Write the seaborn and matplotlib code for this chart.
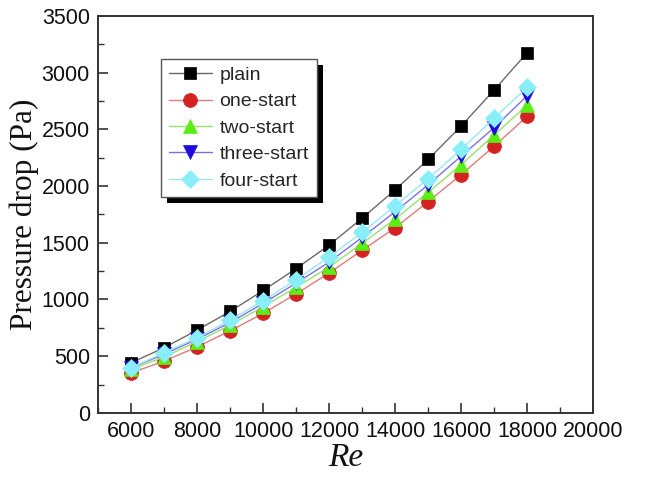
import matplotlib
matplotlib.use('Agg')
import matplotlib.pyplot as plt
from matplotlib.patches import Rectangle
from matplotlib.ticker import MultipleLocator
import seaborn as sns
import pandas as pd

# ─── Data ────────────────────────────────────────────────────────────────────
re_values = [6000, 7000, 8000, 9000, 10000, 11000, 12000, 13000, 14000, 15000, 16000, 17000, 18000]
plain = [442, 575, 730, 895, 1079, 1272, 1479, 1716, 1967, 2234, 2529, 2846, 3175]
one_start = [353, 457, 582, 724, 877, 1050, 1233, 1434, 1632, 1863, 2100, 2352, 2613]
two_start = [384, 493, 629, 774, 937, 1108, 1286, 1494, 1710, 1943, 2189, 2449, 2713]
three_start = [398, 517, 650, 797, 966, 1144, 1330, 1547, 1774, 2011, 2263, 2515, 2796]
four_start = [398, 531, 664, 819, 990, 1174, 1375, 1591, 1825, 2065, 2322, 2598, 2870]

series_names = ['plain', 'one-start', 'two-start', 'three-start', 'four-start']
series_values = [plain, one_start, two_start, three_start, four_start]

# line colour, marker colour, marker, marker size
styles = {
    'plain':       ('#6a6a6a', '#000000', 's', 9),
    'one-start':   ('#e27a7a', '#d42222', 'o', 10),
    'two-start':   ('#98e070', '#5cee14', '^', 10),
    'three-start': ('#7a72e6', '#1c0ce0', 'v', 10),
    'four-start':  ('#9ae6f2', '#8aeefa', 'D', 9),
}

df = pd.DataFrame({
    'Re': re_values * len(series_names),
    'dp': sum(series_values, []),
    'case': [n for n in series_names for _ in re_values],
})

sns.set_style('ticks')
plt.rcParams['font.family'] = ['Liberation Sans', 'DejaVu Sans']

fig, ax = plt.subplots(figsize=(6.68, 4.79), dpi=100)
fig.subplots_adjust(left=0.147, right=0.888, bottom=0.138, top=0.967)

for name in series_names:
    lc, mc, mk, ms = styles[name]
    sub = df[df['case'] == name]
    sns.lineplot(data=sub, x='Re', y='dp', ax=ax, color=lc, linewidth=1.0,
                 marker=mk, markersize=ms, markerfacecolor=mc,
                 markeredgecolor=mc, markeredgewidth=0.5, label=name)

ax.set_xlim(5000, 20000)
ax.set_ylim(0, 3500)
ax.xaxis.set_major_locator(MultipleLocator(2000))
ax.xaxis.set_minor_locator(MultipleLocator(1000))
ax.yaxis.set_major_locator(MultipleLocator(500))
ax.yaxis.set_minor_locator(MultipleLocator(250))

for sp in ax.spines.values():
    sp.set_visible(True)
    sp.set_color('#333333')
    sp.set_linewidth(1.4)

ax.tick_params(which='both', direction='in', top=False, right=False,
               colors='#333333', labelcolor='#111111', labelsize=15.5)
ax.tick_params(which='major', length=7, width=1.2, pad=6)
ax.tick_params(which='minor', length=4, width=1.0)

ax.set_xlabel('Re', family='Liberation Serif', style='italic', fontsize=24,
              labelpad=0, color='#111111')
ax.set_ylabel('Pressure drop (Pa)', family='Liberation Serif', fontsize=22.5,
              labelpad=2, color='#111111')

leg = ax.legend(loc='upper left', bbox_to_anchor=(0.127, 0.892), borderaxespad=0,
                fancybox=False, framealpha=1, edgecolor='#555555', fontsize=14,
                handlelength=2.2, handletextpad=0.4, labelspacing=0.45,
                borderpad=0.4)
leg.get_frame().set_linewidth(1.0)
leg.set_zorder(5)

# legend drop shadow (solid black, offset down-right)
fig.canvas.draw()
bb = leg.get_window_extent().transformed(fig.transFigure.inverted())
dx, dy = 6 / 668, 6 / 479
shadow = Rectangle((bb.x0 + dx, bb.y0 - dy), bb.width, bb.height,
                   transform=fig.transFigure, facecolor='black',
                   edgecolor='none', zorder=4)
ax.add_artist(shadow)
shadow.set_clip_on(False)

plt.savefig('out.png', dpi=100)
